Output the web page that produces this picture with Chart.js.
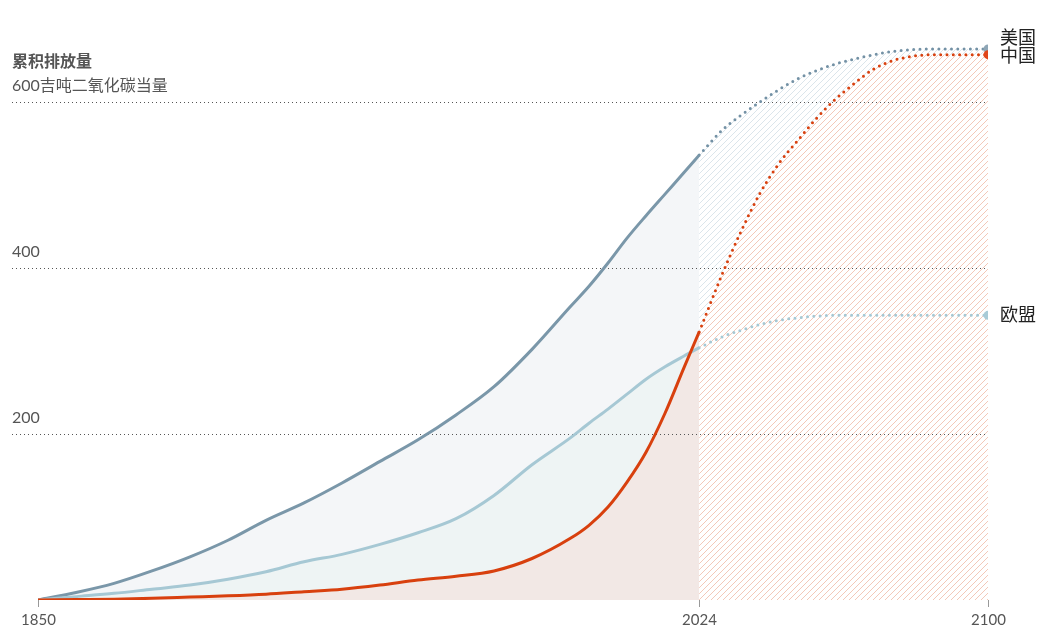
<!DOCTYPE html>
<html lang="zh">
<head>
    <meta charset="UTF-8" />
    <style>
        body {
            margin: 0;
            background: #fff;
        }

        #wrap {
            width: 1050px;
            height: 640px;
        }
    </style>
    <title>累积排放量</title>
    <script src="https://cdn.jsdelivr.net/npm/chart.js"></script>
</head>

<body>
    <div id="wrap"><canvas id="chart"></canvas></div>

    <script>
        // historical cumulative emissions, Gt CO2e
        const histYears = [1850, 1860, 1870, 1880, 1890, 1900, 1910, 1920, 1930, 1940, 1950, 1960, 1970, 1980, 1990, 1995, 2000, 2005, 2010, 2015, 2020, 2024];
        const usHist = [0, 9, 20, 35, 52, 72, 96, 117, 141, 167, 193, 223, 257, 302, 353, 378, 406, 436, 463, 489, 515, 536];
        const euHist = [0, 4, 8, 13, 18, 25, 34, 46, 55, 67, 81, 98, 126, 163, 195, 213, 230, 248, 266, 281, 294, 304];
        const cnHist = [0, 0.5, 1, 2, 3.5, 5, 7, 10, 13, 18, 24, 28.5, 35, 50, 74, 90, 112, 142, 178, 225, 280, 323];

        // projections
        const projYears = [2024, 2030, 2035, 2040, 2045, 2050, 2055, 2060, 2065, 2070, 2075, 2080, 2085, 2090, 2095, 2100];
        const usProj = [536, 566, 584, 600, 615, 628, 638, 646, 652, 657, 661, 663, 664, 664, 664, 664];
        const cnProj = [323, 392, 444, 490, 526, 554, 581, 604, 623, 640, 650, 655, 657, 657, 657, 657];
        const euProj = [304, 317, 325, 332, 337, 340, 342, 343, 343, 343, 343, 343, 343, 343, 343, 343];

        const seriesNames = ["美国", "中国", "欧盟"];
        const xTicks = [1850, 2024, 2100];
        const yTicks = [200, 400, 600];
        const yTickLabels = ["200", "400", "600吉吨二氧化碳当量"];
        const yTitle = "累积排放量";

        const US = "#7a97a9";
        const EU = "#a6c8d4";
        const CN = "#d8400e";
        const FONT = "Lato, 'Noto Sans CJK SC', sans-serif";

        function pts(years, values) {
            return years.map((y, i) => ({ x: y, y: values[i] }));
        }

        function endRadius(n) {
            return Array.from({ length: n }, (_, i) => i === n - 1 ? 4.5 : 0);
        }

        function projLine(values, color, markerColor) {
            return {
                data: pts(projYears, values),
                borderColor: color,
                borderWidth: 3,
                borderDash: [0, 6.3],
                borderCapStyle: 'round',
                cubicInterpolationMode: 'monotone',
                pointRadius: endRadius(projYears.length),
                pointBackgroundColor: markerColor,
                pointBorderWidth: 0,
                fill: false
            };
        }

        function histLine(values, color, fillColor) {
            return {
                data: pts(histYears, values),
                borderColor: color,
                borderWidth: 3,
                cubicInterpolationMode: 'monotone',
                pointRadius: 0,
                backgroundColor: fillColor,
                fill: { target: 'origin', above: fillColor }
            };
        }

        const datasets = [
            histLine(cnHist, CN, "#f2e8e5"),
            histLine(euHist, EU, "#eef4f4"),
            histLine(usHist, US, "#f4f6f8"),
            projLine(euProj, EU, "#a9cbd7"),
            projLine(cnProj, CN, "#e0461b"),
            projLine(usProj, "#7391a5", "#8ea6b6")
        ];

        // area under a line element, closed down to the x axis
        function areaPath(ctx, line, bottom) {
            const p = line.points;
            ctx.beginPath();
            line.path(ctx);
            ctx.lineTo(p[p.length - 1].x, bottom);
            ctx.lineTo(p[0].x, bottom);
            ctx.closePath();
        }

        function hatchFill(ctx, area, color) {
            const h = area.bottom - area.top;
            ctx.strokeStyle = color;
            ctx.lineWidth = 1;
            ctx.beginPath();
            for (let k = area.left - h; k < area.right; k += 6) {
                ctx.moveTo(k, area.bottom);
                ctx.lineTo(k + h, area.top);
            }
            ctx.stroke();
        }

        const decor = {
            id: 'decor',
            beforeDatasetsDraw(chart) {
                const ctx = chart.ctx;
                const y = chart.scales.y;
                const area = chart.chartArea;
                const usLine = chart.getDatasetMeta(5).dataset;
                const cnLine = chart.getDatasetMeta(4).dataset;
                usLine.updateControlPoints(area, 'x');
                cnLine.updateControlPoints(area, 'x');

                ctx.save();
                areaPath(ctx, usLine, area.bottom);
                ctx.clip();
                hatchFill(ctx, area, "#dbe5eb");
                ctx.restore();

                ctx.save();
                areaPath(ctx, cnLine, area.bottom);
                ctx.fillStyle = "#fff";
                ctx.fill();
                ctx.clip();
                hatchFill(ctx, area, "#f3c8b9");
                ctx.restore();

                ctx.save();
                ctx.strokeStyle = "#555";
                ctx.lineWidth = 1;
                ctx.setLineDash([1, 3]);
                yTicks.forEach(v => {
                    const py = Math.round(y.getPixelForValue(v)) + 0.5;
                    ctx.beginPath();
                    ctx.moveTo(12, py);
                    ctx.lineTo(area.right, py);
                    ctx.stroke();
                });
                ctx.restore();
            },
            afterDraw(chart) {
                const ctx = chart.ctx;
                const x = chart.scales.x;
                const y = chart.scales.y;
                const area = chart.chartArea;
                ctx.save();

                // y labels
                ctx.fillStyle = "#555";
                ctx.textAlign = 'left';
                ctx.textBaseline = 'middle';
                ctx.font = "16px " + FONT;
                yTicks.forEach((v, i) => {
                    ctx.fillText(yTickLabels[i], 12, y.getPixelForValue(v) - 16);
                });
                ctx.font = "bold 16px " + FONT;
                ctx.fillText(yTitle, 12, y.getPixelForValue(yTicks[yTicks.length - 1]) - 40);

                // x ticks
                ctx.strokeStyle = "#999";
                ctx.lineWidth = 1;
                ctx.font = "15px " + FONT;
                ctx.textAlign = 'center';
                xTicks.forEach(v => {
                    const px = Math.round(x.getPixelForValue(v)) + 0.5;
                    ctx.beginPath();
                    ctx.moveTo(px, area.bottom);
                    ctx.lineTo(px, area.bottom + 7);
                    ctx.stroke();
                    ctx.fillText(String(v), px, area.bottom + 20);
                });

                // series labels
                ctx.fillStyle = "#222";
                ctx.textAlign = 'left';
                ctx.font = "18px " + FONT;
                const lastX = x.getPixelForValue(projYears[projYears.length - 1]) + 12;
                const ends = [usProj, cnProj, euProj].map(a => y.getPixelForValue(a[a.length - 1]));
                const shifts = [-11, 1, 0];
                seriesNames.forEach((name, i) => {
                    ctx.fillText(name, lastX, ends[i] + shifts[i]);
                });
                ctx.restore();
            }
        };

        new Chart(document.getElementById('chart'), {
            type: 'line',
            data: { datasets: datasets },
            options: {
                responsive: true,
                maintainAspectRatio: false,
                animation: false,
                layout: {
                    padding: { left: 38, right: 62, top: 19, bottom: 40 }
                },
                scales: {
                    x: { type: 'linear', min: 1850, max: 2100, display: false },
                    y: { min: 0, max: 700, display: false }
                },
                plugins: {
                    legend: { display: false },
                    tooltip: { enabled: false },
                    filler: { drawTime: 'beforeDatasetsDraw' }
                }
            },
            plugins: [decor]
        });
    </script>
</body>
</html>
